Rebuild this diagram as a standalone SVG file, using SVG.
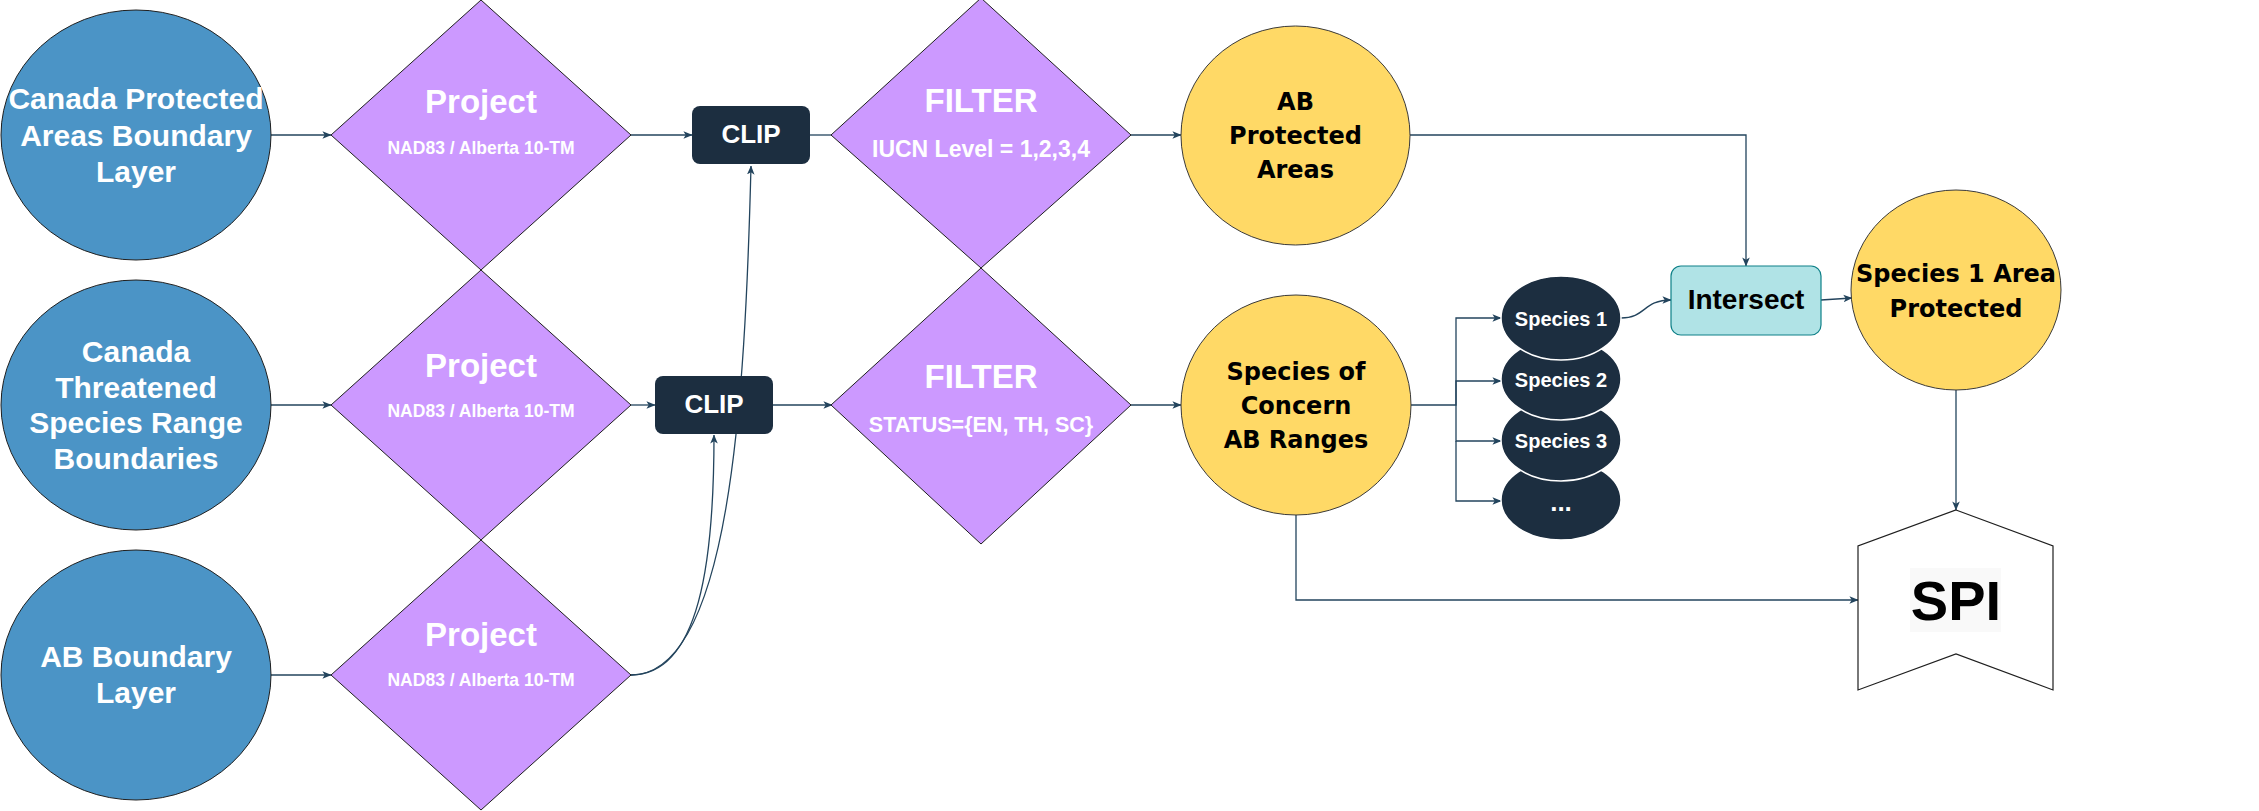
<svg xmlns="http://www.w3.org/2000/svg" width="2259" height="811" viewBox="0 0 2259 811">
<style>
.src{fill:#4b94c6;stroke:#1f1f1f;stroke-width:1}
.dia{fill:#cc99ff;stroke:#1f1f1f;stroke-width:1}
.res{fill:#ffd966;stroke:#3a3a3a;stroke-width:1}
.clip{fill:#1c2e40;stroke:none}
.sp{fill:#1c2e40;stroke:#ffffff;stroke-width:1.5}
.inter{fill:#b0e3e6;stroke:#0e8088;stroke-width:1.2}
.spi{fill:#ffffff;stroke:#1f1f1f;stroke-width:1.2}
.c{fill:none;stroke:#23445d;stroke-width:1.3}
text{font-family:"Liberation Sans",Arial,sans-serif;font-weight:bold;text-anchor:middle}
.w{fill:#ffffff}
.k{fill:#000000}
.dv{font-family:"DejaVu Sans","Liberation Sans",sans-serif;font-size:24px;fill:#000000}
</style>
<defs>
<marker id="ah" viewBox="0 0 10 10" refX="9.5" refY="5" markerWidth="9" markerHeight="9" markerUnits="userSpaceOnUse" orient="auto">
<path d="M0,0.8 L10,5 L0,9.2 L2.5,5 z" fill="#23445d"/>
</marker>
</defs>
<rect x="0" y="0" width="2259" height="811" fill="#ffffff"/>

<g id="connectors">
<path class="c" d="M271,135 H331" marker-end="url(#ah)"/>
<path class="c" d="M271,405 H331" marker-end="url(#ah)"/>
<path class="c" d="M271,675 H331" marker-end="url(#ah)"/>
<path class="c" d="M631,135 H692" marker-end="url(#ah)"/>
<path class="c" d="M631,405 H655" marker-end="url(#ah)"/>
<path class="c" d="M631,675 C700,675 714,560 714,435" marker-end="url(#ah)"/>
<path class="c" d="M631,675 C730,675 745,400 751,166" marker-end="url(#ah)"/>
<path class="c" d="M810,135 H832"/>
<path class="c" d="M773,405 H832" marker-end="url(#ah)"/>
<path class="c" d="M1131,135 H1181" marker-end="url(#ah)"/>
<path class="c" d="M1131,405 H1181" marker-end="url(#ah)"/>
<path class="c" d="M1410,135 H1746 V266" marker-end="url(#ah)"/>
<path class="c" d="M1411,405 H1456 V318 H1501" marker-end="url(#ah)"/>
<path class="c" d="M1456,405 V381 H1501" marker-end="url(#ah)"/>
<path class="c" d="M1456,405 V441 H1501" marker-end="url(#ah)"/>
<path class="c" d="M1456,441 V501 H1501" marker-end="url(#ah)"/>
<path class="c" d="M1621,318 C1646,318 1643,300 1671,300" marker-end="url(#ah)"/>
<path class="c" d="M1821,300 L1852,298" marker-end="url(#ah)"/>
<path class="c" d="M1956,390 V510" marker-end="url(#ah)"/>
<path class="c" d="M1296,515 V600 H1858" marker-end="url(#ah)"/>
</g>

<g id="src1">
<ellipse class="src" cx="136" cy="135" rx="135" ry="125"/>
<text class="w" font-size="30" x="136" y="109">Canada Protected</text>
<text class="w" font-size="30" x="136" y="146">Areas Boundary</text>
<text class="w" font-size="30" x="136" y="182">Layer</text>
</g>
<g id="src2">
<ellipse class="src" cx="136" cy="405" rx="135" ry="125"/>
<text class="w" font-size="30" x="136" y="362">Canada</text>
<text class="w" font-size="30" x="136" y="398">Threatened</text>
<text class="w" font-size="30" x="136" y="433">Species Range</text>
<text class="w" font-size="30" x="136" y="469">Boundaries</text>
</g>
<g id="src3">
<ellipse class="src" cx="136" cy="675" rx="135" ry="125"/>
<text class="w" font-size="30" x="136" y="667">AB Boundary</text>
<text class="w" font-size="30" x="136" y="703">Layer</text>
</g>

<g id="project1">
<polygon class="dia" points="481,0 631,135 481,270 331,135"/>
<text class="w" font-size="33" x="481" y="113">Project</text>
<text class="w" font-size="17.5" x="481" y="154">NAD83 / Alberta 10-TM</text>
</g>
<g id="project2">
<polygon class="dia" points="481,270 631,405 481,540 331,405"/>
<text class="w" font-size="33" x="481" y="377">Project</text>
<text class="w" font-size="17.5" x="481" y="417">NAD83 / Alberta 10-TM</text>
</g>
<g id="project3">
<polygon class="dia" points="481,540 631,675 481,810 331,675"/>
<text class="w" font-size="33" x="481" y="646">Project</text>
<text class="w" font-size="17.5" x="481" y="686">NAD83 / Alberta 10-TM</text>
</g>

<g id="clip1">
<rect class="clip" x="692" y="106" width="118" height="58" rx="8"/>
<text class="w" font-size="26" x="751" y="143">CLIP</text>
</g>
<g id="clip2">
<rect class="clip" x="655" y="376" width="118" height="58" rx="8"/>
<text class="w" font-size="26" x="714" y="413">CLIP</text>
</g>

<g id="filter1">
<polygon class="dia" points="981,-2 1131,135 981,268 831,135"/>
<text class="w" font-size="33" x="981" y="112">FILTER</text>
<text class="w" font-size="23" x="981" y="157">IUCN Level = 1,2,3,4</text>
</g>
<g id="filter2">
<polygon class="dia" points="981,268 1131,405 981,544 831,405"/>
<text class="w" font-size="33" x="981" y="388">FILTER</text>
<text class="w" font-size="21.5" x="981" y="432">STATUS={EN, TH, SC}</text>
</g>

<g id="ab-protected">
<ellipse class="res" cx="1295.5" cy="135.5" rx="114.5" ry="109.5"/>
<text class="dv" x="1295.5" y="110">AB</text>
<text class="dv" x="1295.5" y="144">Protected</text>
<text class="dv" x="1295.5" y="178">Areas</text>
</g>
<g id="species-concern">
<ellipse class="res" cx="1296" cy="405" rx="115" ry="110"/>
<text class="dv" x="1296" y="380">Species of</text>
<text class="dv" x="1296" y="414">Concern</text>
<text class="dv" x="1296" y="448">AB Ranges</text>
</g>

<g id="species-more">
<ellipse class="sp" cx="1561" cy="500" rx="60" ry="40"/>
<text class="w" font-size="26" x="1561" y="511">...</text>
</g>
<g id="species3">
<ellipse class="sp" cx="1561" cy="440" rx="60" ry="41"/>
<text class="w" font-size="20" x="1561" y="448">Species 3</text>
</g>
<g id="species2">
<ellipse class="sp" cx="1561" cy="379" rx="60" ry="41"/>
<text class="w" font-size="20" x="1561" y="387">Species 2</text>
</g>
<g id="species1">
<ellipse class="sp" cx="1561" cy="318" rx="60" ry="42"/>
<text class="w" font-size="20" x="1561" y="326">Species 1</text>
</g>

<g id="intersect">
<rect class="inter" x="1671" y="266" width="150" height="69" rx="10"/>
<text class="k" font-size="28" x="1746" y="309">Intersect</text>
</g>

<g id="species1-protected">
<ellipse class="res" cx="1956" cy="290" rx="105" ry="100"/>
<text class="dv" x="1956" y="282">Species 1 Area</text>
<text class="dv" x="1956" y="317">Protected</text>
</g>

<g id="spi">
<polygon class="spi" points="1956,510 2053,546 2053,690 1956,654 1858,690 1858,546"/>
<rect x="1910" y="568" width="91" height="64" fill="#f9f9f9"/>
<text class="k" font-size="56" x="1956" y="620">SPI</text>
</g>
</svg>
